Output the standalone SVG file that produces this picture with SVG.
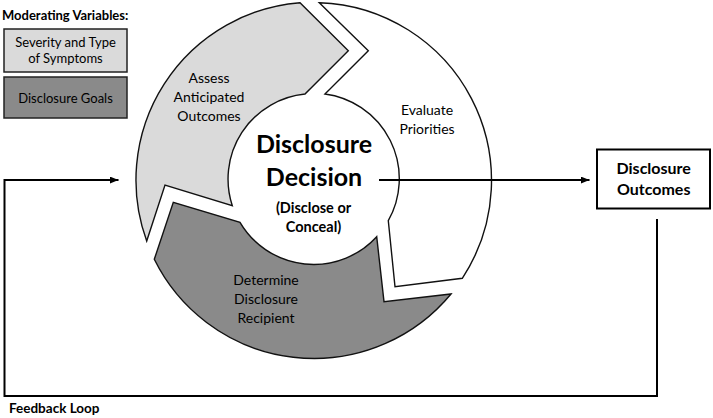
<svg xmlns="http://www.w3.org/2000/svg" width="713" height="418" viewBox="0 0 713 418">
<defs>
<style>
text{font-family:Lato,"Open Sans","Liberation Sans",sans-serif;fill:#000;}
.seg{stroke:#111;stroke-width:1.4;stroke-linejoin:miter;}
.light{fill:#dadada;}
.dark{fill:#8a8a8a;}
.white{fill:#fff;}
.lbl{text-anchor:middle;}
.box{stroke:#222;stroke-width:1.5;}
.bold{font-weight:bold;}
.conn{fill:none;stroke:#000;stroke-width:2;}
</style>
<marker id="arrow" viewBox="0 0 10 8" refX="10" refY="4" markerWidth="9" markerHeight="7" markerUnits="userSpaceOnUse" orient="auto">
<path d="M0,0 L10,4 L0,8 Z" fill="#000"/>
</marker>
</defs>
<rect width="713" height="418" fill="#fff"/>

<g id="legend">
<text class="bold" x="2" y="20" style="font-size:13px">Moderating Variables:</text>
</g>
<g id="node-severity">
<rect class="box light" x="4" y="29" width="123" height="43"/>
<text class="lbl" x="65.5" y="47" style="font-size:13px">Severity and Type</text>
<text class="lbl" x="65.5" y="63" style="font-size:13px">of Symptoms</text>
</g>
<g id="node-goals">
<rect class="box dark" x="4" y="77" width="123" height="41"/>
<text class="lbl" x="65.5" y="102.5" style="font-size:13px">Disclosure Goals</text>
</g>

<g id="node-assess">
<path class="seg light" d="M146.7,241 A178,178 0 0 1 300,2.7 L348.3,50.7 L305,94 A85.5,85.5 0 0 0 232.3,205.7 L165,185 Z"/>
<text class="lbl" x="209" y="82.7" style="font-size:14px">Assess</text>
<text class="lbl" x="209" y="101.7" style="font-size:14px">Anticipated</text>
<text class="lbl" x="209" y="120.5" style="font-size:14px">Outcomes</text>
</g>
<g id="node-evaluate">
<path class="seg white" d="M319.3,2.7 A178,178 0 0 1 462.3,278.3 L395,286.7 L388.3,220.7 A85.5,85.5 0 0 0 325,94 L368.3,50.7 Z"/>
<text class="lbl" x="427" y="115" style="font-size:14px">Evaluate</text>
<text class="lbl" x="427" y="133.5" style="font-size:14px">Priorities</text>
</g>
<g id="node-determine">
<path class="seg dark" d="M451,294 A178,178 0 0 1 154.3,259.3 L173.3,202.3 L240,222.3 A85.5,85.5 0 0 0 376.7,236.7 L384,301.7 Z"/>
<text class="lbl" x="266" y="285" style="font-size:14px">Determine</text>
<text class="lbl" x="266" y="304" style="font-size:14px">Disclosure</text>
<text class="lbl" x="266" y="322.7" style="font-size:14px">Recipient</text>
</g>
<g id="node-decision">
<text class="lbl bold" x="314" y="152.7" style="font-size:25px">Disclosure</text>
<text class="lbl bold" x="314" y="186" style="font-size:25px">Decision</text>
<text class="lbl bold" x="313.5" y="213.3" style="font-size:14.5px">(Disclose or</text>
<text class="lbl bold" x="313.5" y="231.7" style="font-size:14.5px">Conceal)</text>
</g>
<g id="node-outcomes">
<rect x="597" y="149.5" width="113" height="59" fill="#fff" stroke="#000" stroke-width="2"/>
<text class="lbl bold" x="653.7" y="173.5" style="font-size:16px">Disclosure</text>
<text class="lbl bold" x="653.7" y="195" style="font-size:16px">Outcomes</text>
</g>

<g id="connectors">
<line class="conn" x1="379" y1="180" x2="589.5" y2="180" marker-end="url(#arrow)"/>
<path class="conn" d="M657,219 V396 H4.5 V180 H118.5" marker-end="url(#arrow)"/>
<text class="bold" x="9" y="413.3" style="font-size:13.5px">Feedback Loop</text>
</g>
</svg>
